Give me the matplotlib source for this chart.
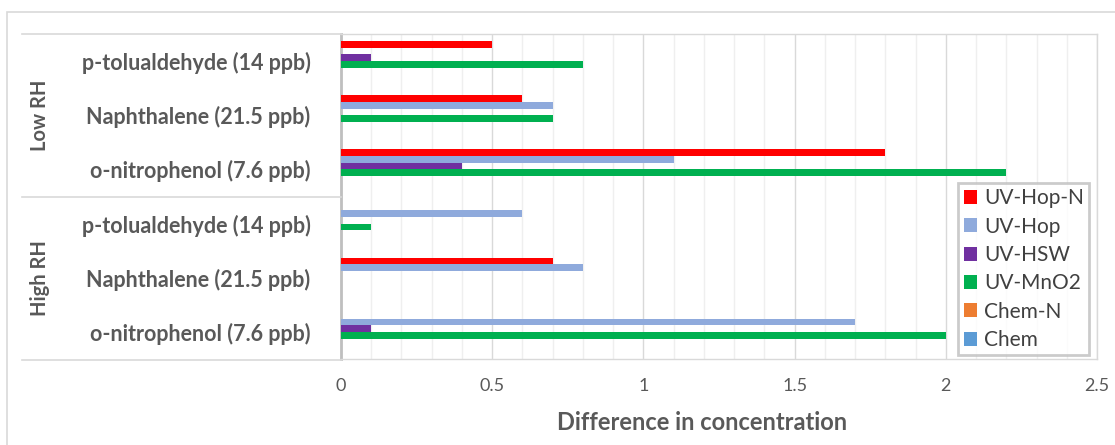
import numpy as np
import matplotlib
matplotlib.use('Agg')
import matplotlib.pyplot as plt
from matplotlib.patches import Rectangle
from matplotlib.lines import Line2D

plt.rcParams['font.family'] = ['Lato', 'DejaVu Sans']

# categories, bottom to top
compounds = ['o-nitrophenol (7.6 ppb)', 'Naphthalene (21.5 ppb)', 'p-tolualdehyde (14 ppb)',
             'o-nitrophenol (7.6 ppb)', 'Naphthalene (21.5 ppb)', 'p-tolualdehyde (14 ppb)']
groups = ['High RH', 'Low RH']

series = ['Chem', 'Chem-N', 'UV-MnO2', 'UV-HSW', 'UV-Hop', 'UV-Hop-N']
colors = ['#5B9BD5', '#ED7D31', '#00B050', '#7030A0', '#8FAADC', '#FF0000']

chem = [0, 0, 0, 0, 0, 0]
chem_n = [0, 0, 0, 0, 0, 0]
uv_mno2 = [2.0, 0, 0.1, 2.2, 0.7, 0.8]
uv_hsw = [0.1, 0, 0, 0.4, 0, 0.1]
uv_hop = [1.7, 0.8, 0.6, 1.1, 0.7, 0]
uv_hop_n = [0, 0.7, 0, 1.8, 0.6, 0.5]
values = [chem, chem_n, uv_mno2, uv_hsw, uv_hop, uv_hop_n]

xticks = [0, 0.5, 1, 1.5, 2, 2.5]
xticklabels = ['0', '0.5', '1', '1.5', '2', '2.5']

txt = '#595959'
grid_major = '#d9d9d9'
grid_minor = '#efefef'

fig = plt.figure(figsize=(11.15, 4.45), dpi=100)
ax = fig.add_axes([341/1115, 1-359/445, (1097-341)/1115, (359-34)/445])

y = np.arange(len(compounds))
h = 0.123
for i, (name, vals, c) in enumerate(zip(series, values, colors)):
    ax.barh(y + (i - 2.5)*h, vals, height=h, color=c, label=name, zorder=3)

ax.set_xlim(0, 2.5)
ax.set_ylim(-0.5, 5.5)
ax.set_xticks(xticks)
ax.set_xticklabels(xticklabels)
ax.set_xticks(np.arange(0, 2.51, 0.1), minor=True)
ax.grid(axis='x', which='major', color=grid_major, lw=1, zorder=0)
ax.grid(axis='x', which='minor', color=grid_minor, lw=1, zorder=0)
ax.tick_params(axis='x', which='both', length=0, labelsize=13, colors=txt, pad=14)
ax.set_yticks(y)
ax.set_yticklabels(compounds, fontsize=15.5, fontweight='bold', color=txt)
ax.tick_params(axis='y', length=0, pad=22)
for s in ['top', 'right', 'bottom']:
    ax.spines[s].set_color(grid_major)
    ax.spines[s].set_linewidth(1)
ax.spines['left'].set_color('#bfbfbf')
ax.spines['left'].set_linewidth(2)

ax.set_xlabel('Difference in concentration', fontsize=17, fontweight='bold', color=txt)
ax.xaxis.set_label_coords((702-341)/756, -(423-359)/325)
ax.xaxis.label.set_va('center')

# group labels and dividers
fy = [1-360/445, 1-197/445, 1-34/445]
for yy in fy:
    fig.add_artist(Line2D([22/1115, 341/1115], [yy, yy], color=grid_major, lw=1.2))
for k, g in enumerate(groups):
    yc = (fy[k] + fy[k+1]) / 2
    fig.text(40/1115, yc, g, fontsize=14.5, fontweight='bold', color=txt, rotation=90,
             ha='center', va='center')

# chart outer border
fig.add_artist(Rectangle((7/1115, -0.1), 1.2, 1-12/445+0.1, fill=False, ec=grid_major, lw=1.2,
                         transform=fig.transFigure))

handles, labels = ax.get_legend_handles_labels()
leg = ax.legend(handles[::-1], labels[::-1], loc='lower right', bbox_to_anchor=(0.99, 0.012),
                borderaxespad=0, fontsize=15, frameon=True, fancybox=False, handlelength=0.65,
                handleheight=0.65, handletextpad=0.35, labelspacing=0.4, borderpad=0.25)
leg.get_frame().set_edgecolor('#bfbfbf')
leg.get_frame().set_linewidth(2)
for t in leg.get_texts():
    t.set_color('#404040')

fig.savefig('out.png', dpi=100)
